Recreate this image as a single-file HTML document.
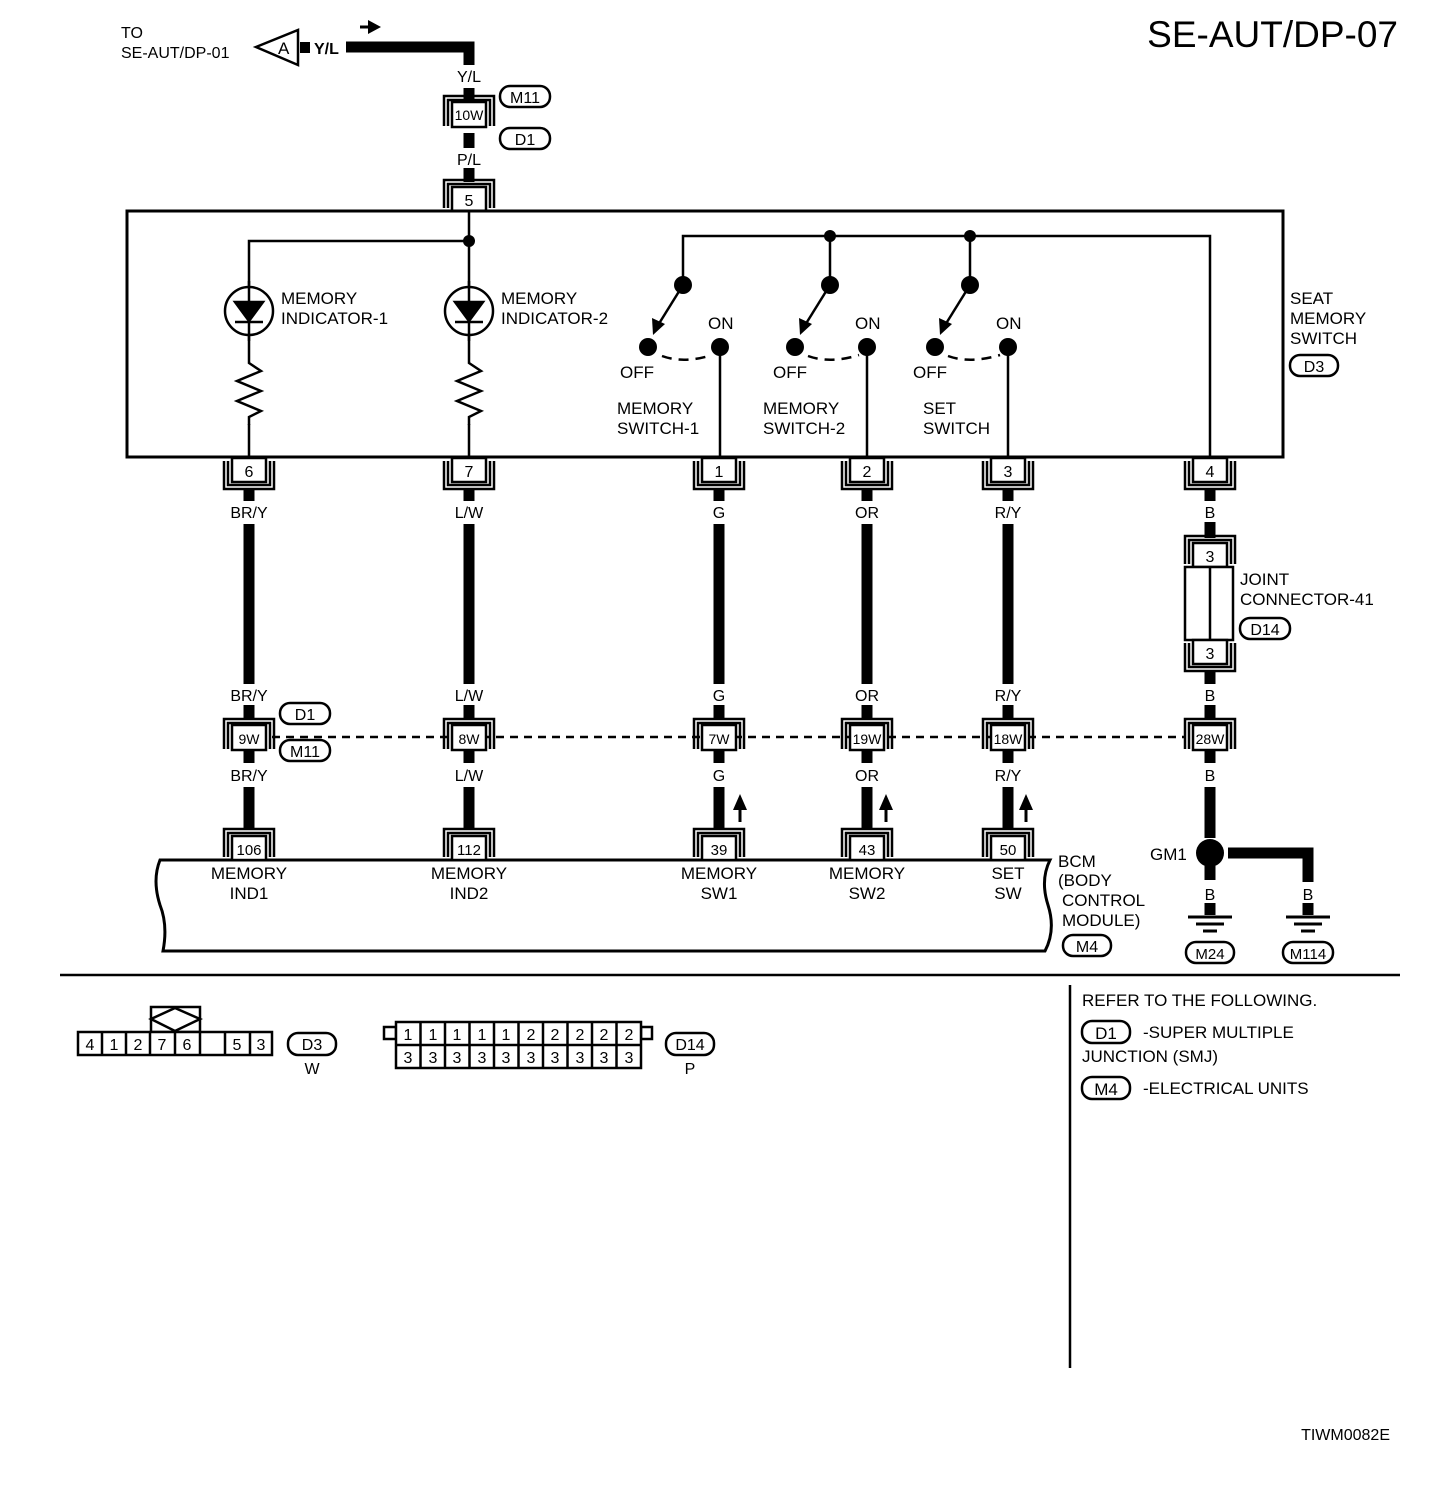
<!DOCTYPE html>
<html><head><meta charset="utf-8"><style>
html,body{margin:0;padding:0;background:#fff;}
svg{display:block;}
text{font-family:"Liberation Sans",Arial,sans-serif;fill:#000;}
</style></head><body>
<svg width="1456" height="1506" viewBox="0 0 1456 1506" xmlns="http://www.w3.org/2000/svg">
<defs>
<g id="cd" fill="none" stroke="#000" stroke-width="2.5"><rect x="-17" y="0" width="34" height="24" fill="#fff"/><path d="M-25,3 V31 H25 V3"/><path d="M-21,3 V27 H21 V3"/></g>
<g id="cu" fill="none" stroke="#000" stroke-width="2.5"><rect x="-17" y="-24" width="34" height="24" fill="#fff"/><path d="M-25,-3 V-31 H25 V-3"/><path d="M-21,-3 V-27 H21 V-3"/></g>
<g id="ci" fill="none" stroke="#000" stroke-width="2.5"><rect x="-17" y="-12" width="34" height="25" fill="#fff"/><path d="M-25,12 V-18 H25 V12"/><path d="M-21,12 V-14 H21 V12"/></g>
<g id="led" fill="none" stroke="#000" stroke-width="2.5"><circle cx="0" cy="0" r="24" fill="#fff"/><path d="M0,-30 V30"/><path d="M-14,-9 H14 L0,10 Z" fill="#000"/><path d="M-14,11 H14"/></g>
<g id="res" fill="none" stroke="#000" stroke-width="2.5"><path d="M0,0 V8 L12,16 L-12,26 L12,36 L-12,46 L12,56 L0,62 V70"/></g>
<g id="gnd" stroke="#000" fill="none"><path d="M-22,0 H22" stroke-width="3"/><path d="M-14,7 H14" stroke-width="3"/><path d="M-7,14 H7" stroke-width="3"/></g>
<g id="upa"><path d="M0,0 V-14" stroke="#000" stroke-width="3"/><path d="M-7,-12 L0,-28 L7,-12 Z" fill="#000"/></g>
</defs>

<text x="1398" y="47" font-size="37" text-anchor="end">SE-AUT/DP-07</text>

<text x="121" y="38" font-size="16">TO</text>
<text x="121" y="58" font-size="16">SE-AUT/DP-01</text>
<path d="M256,47 L298,30 L298,65 Z" fill="#fff" stroke="#000" stroke-width="2.5"/>
<text x="278" y="54" font-size="17">A</text>
<rect x="300" y="42" width="10" height="11" fill="#000"/>
<text x="314" y="54" font-size="16" font-weight="bold">Y/L</text>
<path d="M346,47 H469 V65" fill="none" stroke="#000" stroke-width="11"/>
<path d="M360,27 H370" stroke="#000" stroke-width="3"/><path d="M368,20 L381,27 L368,34 Z" fill="#000"/>
<text x="469" y="82" font-size="16" text-anchor="middle">Y/L</text>
<path d="M469,88 V104" stroke="#000" stroke-width="11"/>
<use href="#ci" x="469" y="114"/>
<text x="469" y="120" font-size="14" text-anchor="middle">10W</text>
<path d="M469,133 V148" stroke="#000" stroke-width="11"/>
<rect x="500" y="86" width="50" height="21" rx="10" fill="#fff" stroke="#000" stroke-width="2.5"/><text x="525" y="103" font-size="16" text-anchor="middle">M11</text>
<rect x="500" y="128" width="50" height="21" rx="10" fill="#fff" stroke="#000" stroke-width="2.5"/><text x="525" y="145" font-size="16" text-anchor="middle">D1</text>
<text x="469" y="165" font-size="16" text-anchor="middle">P/L</text>
<path d="M469,168 V182" stroke="#000" stroke-width="11"/>
<use href="#cu" x="469" y="211"/>
<text x="469" y="206" font-size="16" text-anchor="middle">5</text>

<rect x="127" y="211" width="1156" height="246" fill="none" stroke="#000" stroke-width="3"/>
<path d="M469,211 V355 M249,355 V241 H469" fill="none" stroke="#000" stroke-width="2.5"/>
<circle cx="469" cy="241" r="6" fill="#000"/>
<use href="#led" x="249" y="311"/><use href="#led" x="469" y="311"/>
<use href="#res" x="249" y="355"/><use href="#res" x="469" y="355"/>
<path d="M249,424 V457 M469,424 V457" stroke="#000" stroke-width="2.5"/>
<text x="281" y="304" font-size="17">MEMORY</text><text x="281" y="324" font-size="17">INDICATOR-1</text>
<text x="501" y="304" font-size="17">MEMORY</text><text x="501" y="324" font-size="17">INDICATOR-2</text>
<path d="M683,285 V236 H1210 V457 M830,236 V285 M970,236 V285" fill="none" stroke="#000" stroke-width="2.5"/>
<circle cx="830" cy="236" r="6" fill="#000"/><circle cx="970" cy="236" r="6" fill="#000"/>
<g fill="#000">
<circle cx="683" cy="285" r="9"/><circle cx="830" cy="285" r="9"/><circle cx="970" cy="285" r="9"/>
<circle cx="648" cy="347" r="9"/><circle cx="795" cy="347" r="9"/><circle cx="935" cy="347" r="9"/>
<circle cx="720" cy="347" r="9"/><circle cx="867" cy="347" r="9"/><circle cx="1008" cy="347" r="9"/>
</g>
<g stroke="#000" stroke-width="2.5" fill="none">
<path d="M683,285 L660,322"/><path d="M830,285 L807,322"/><path d="M970,285 L947,322"/>
<path d="M662,356 Q684,364 712,355" stroke-dasharray="10,7"/><path d="M808,356 Q830,364 859,355" stroke-dasharray="10,7"/><path d="M948,356 Q970,364 1000,355" stroke-dasharray="10,7"/>
<path d="M720,347 V457 M867,347 V457 M1008,347 V457"/>
</g>
<path d="M652,318 L665,324 L653,335 Z" fill="#000"/><path d="M799,318 L812,324 L800,335 Z" fill="#000"/><path d="M939,318 L952,324 L940,335 Z" fill="#000"/>
<g font-size="17">
<text x="708" y="329">ON</text><text x="855" y="329">ON</text><text x="996" y="329">ON</text>
<text x="620" y="378">OFF</text><text x="773" y="378">OFF</text><text x="913" y="378">OFF</text>
<text x="617" y="414">MEMORY</text><text x="617" y="434">SWITCH-1</text>
<text x="763" y="414">MEMORY</text><text x="763" y="434">SWITCH-2</text>
<text x="923" y="414">SET</text><text x="923" y="434">SWITCH</text>
<text x="1290" y="304">SEAT</text><text x="1290" y="324">MEMORY</text><text x="1290" y="344">SWITCH</text>
</g>
<rect x="1290" y="355" width="48" height="21" rx="10" fill="#fff" stroke="#000" stroke-width="2.5"/><text x="1314" y="372" font-size="16" text-anchor="middle">D3</text>

<g font-size="16" text-anchor="middle">
<use href="#cd" x="249" y="458"/><text x="249" y="477">6</text>
<use href="#cd" x="469" y="458"/><text x="469" y="477">7</text>
<use href="#cd" x="719" y="458"/><text x="719" y="477">1</text>
<use href="#cd" x="867" y="458"/><text x="867" y="477">2</text>
<use href="#cd" x="1008" y="458"/><text x="1008" y="477">3</text>
<use href="#cd" x="1210" y="458"/><text x="1210" y="477">4</text>
</g>

<g stroke="#000" stroke-width="11" fill="none">
<path d="M249,489 V501 M249,524 V684 M249,705 V718 M249,751 V763 M249,787 V830"/>
<path d="M469,489 V501 M469,524 V684 M469,705 V718 M469,751 V763 M469,787 V830"/>
<path d="M719,489 V501 M719,524 V684 M719,705 V718 M719,751 V763 M719,787 V830"/>
<path d="M867,489 V501 M867,524 V684 M867,705 V718 M867,751 V763 M867,787 V830"/>
<path d="M1008,489 V501 M1008,524 V684 M1008,705 V718 M1008,751 V763 M1008,787 V830"/>
<path d="M1210,489 V501 M1210,522 V538 M1210,670 V684 M1210,705 V718 M1210,751 V763 M1210,787 V838 M1210,866 V880 M1210,903 V915"/>
<path d="M1228,853 H1308 V882 M1308,903 V915"/>
</g>
<g font-size="16" text-anchor="middle">
<text x="249" y="518">BR/Y</text><text x="469" y="518">L/W</text><text x="719" y="518">G</text><text x="867" y="518">OR</text><text x="1008" y="518">R/Y</text><text x="1210" y="518">B</text>
<text x="249" y="701">BR/Y</text><text x="469" y="701">L/W</text><text x="719" y="701">G</text><text x="867" y="701">OR</text><text x="1008" y="701">R/Y</text><text x="1210" y="701">B</text>
<text x="249" y="781">BR/Y</text><text x="469" y="781">L/W</text><text x="719" y="781">G</text><text x="867" y="781">OR</text><text x="1008" y="781">R/Y</text><text x="1210" y="781">B</text>
</g>

<use href="#cu" x="1210" y="567"/><text x="1210" y="562" font-size="16" text-anchor="middle">3</text>
<rect x="1185" y="567" width="48" height="73" fill="#fff" stroke="#000" stroke-width="2.5"/>
<path d="M1210,567 V640" stroke="#000" stroke-width="2.5"/>
<use href="#cd" x="1210" y="640"/><text x="1210" y="659" font-size="16" text-anchor="middle">3</text>
<text x="1240" y="585" font-size="17">JOINT</text><text x="1240" y="605" font-size="17">CONNECTOR-41</text>
<rect x="1240" y="618" width="50" height="21" rx="10" fill="#fff" stroke="#000" stroke-width="2.5"/><text x="1265" y="635" font-size="16" text-anchor="middle">D14</text>

<path d="M272,737 H1186" stroke="#000" stroke-width="2.5" stroke-dasharray="8,6"/>
<g font-size="14" text-anchor="middle">
<use href="#ci" x="249" y="737"/><text x="249" y="744">9W</text>
<use href="#ci" x="469" y="737"/><text x="469" y="744">8W</text>
<use href="#ci" x="719" y="737"/><text x="719" y="744">7W</text>
<use href="#ci" x="867" y="737"/><text x="867" y="744">19W</text>
<use href="#ci" x="1008" y="737"/><text x="1008" y="744">18W</text>
<use href="#ci" x="1210" y="737"/><text x="1210" y="744">28W</text>
</g>
<rect x="280" y="703" width="50" height="21" rx="10" fill="#fff" stroke="#000" stroke-width="2.5"/><text x="305" y="720" font-size="16" text-anchor="middle">D1</text>
<rect x="280" y="740" width="50" height="21" rx="10" fill="#fff" stroke="#000" stroke-width="2.5"/><text x="305" y="757" font-size="16" text-anchor="middle">M11</text>

<use href="#upa" x="740" y="822"/><use href="#upa" x="886" y="822"/><use href="#upa" x="1026" y="822"/>

<path d="M160,860 H1050 Q1040,880 1048,905 Q1056,930 1045,951 H163 Q168,925 160,905 Q152,880 160,860 Z" fill="#fff" stroke="#000" stroke-width="3"/>
<g font-size="15" text-anchor="middle">
<use href="#cu" x="249" y="860"/><text x="249" y="855">106</text>
<use href="#cu" x="469" y="860"/><text x="469" y="855">112</text>
<use href="#cu" x="719" y="860"/><text x="719" y="855">39</text>
<use href="#cu" x="867" y="860"/><text x="867" y="855">43</text>
<use href="#cu" x="1008" y="860"/><text x="1008" y="855">50</text>
</g>
<g font-size="17" text-anchor="middle">
<text x="249" y="879">MEMORY</text><text x="249" y="899">IND1</text>
<text x="469" y="879">MEMORY</text><text x="469" y="899">IND2</text>
<text x="719" y="879">MEMORY</text><text x="719" y="899">SW1</text>
<text x="867" y="879">MEMORY</text><text x="867" y="899">SW2</text>
<text x="1008" y="879">SET</text><text x="1008" y="899">SW</text>
</g>
<g font-size="17">
<text x="1058" y="867">BCM</text><text x="1058" y="886">(BODY</text><text x="1062" y="906">CONTROL</text><text x="1062" y="926">MODULE)</text>
</g>
<rect x="1063" y="935" width="48" height="21" rx="10" fill="#fff" stroke="#000" stroke-width="2.5"/><text x="1087" y="952" font-size="16" text-anchor="middle">M4</text>

<circle cx="1210" cy="853" r="14" fill="#000"/>
<text x="1150" y="860" font-size="17">GM1</text>
<text x="1210" y="900" font-size="16" text-anchor="middle">B</text><text x="1308" y="900" font-size="16" text-anchor="middle">B</text>
<use href="#gnd" x="1210" y="917"/><use href="#gnd" x="1308" y="917"/>
<rect x="1186" y="942" width="48" height="21" rx="10" fill="#fff" stroke="#000" stroke-width="2.5"/><text x="1210" y="959" font-size="15" text-anchor="middle">M24</text>
<rect x="1283" y="942" width="50" height="21" rx="10" fill="#fff" stroke="#000" stroke-width="2.5"/><text x="1308" y="959" font-size="15" text-anchor="middle">M114</text>

<path d="M60,975 H1400" stroke="#000" stroke-width="2.5"/>
<path d="M1070,985 V1368" stroke="#000" stroke-width="2.5"/>
<g font-size="17">
<text x="1082" y="1006">REFER TO THE FOLLOWING.</text>
<text x="1143" y="1038">-SUPER MULTIPLE</text>
<text x="1082" y="1062">JUNCTION (SMJ)</text>
<text x="1143" y="1094">-ELECTRICAL UNITS</text>
</g>
<rect x="1082" y="1021" width="48" height="22" rx="10" fill="#fff" stroke="#000" stroke-width="2.5"/><text x="1106" y="1039" font-size="17" text-anchor="middle">D1</text>
<rect x="1082" y="1077" width="48" height="22" rx="10" fill="#fff" stroke="#000" stroke-width="2.5"/><text x="1106" y="1095" font-size="17" text-anchor="middle">M4</text>

<g fill="#fff" stroke="#000" stroke-width="2.5">
<rect x="151" y="1007" width="49" height="25"/>
<path d="M151,1019 L175,1008 L200,1019 L175,1031 Z" fill="none"/>
<rect x="78" y="1032" width="194" height="23"/>
<path d="M102,1032 V1055 M126,1032 V1055 M150,1032 V1055 M175,1032 V1055 M200,1032 V1055 M225,1032 V1055 M250,1032 V1055" fill="none"/>
</g>
<g font-size="16" text-anchor="middle">
<text x="90" y="1050">4</text><text x="114" y="1050">1</text><text x="138" y="1050">2</text><text x="162" y="1050">7</text><text x="187" y="1050">6</text><text x="237" y="1050">5</text><text x="261" y="1050">3</text>
</g>
<rect x="288" y="1033" width="48" height="22" rx="10" fill="#fff" stroke="#000" stroke-width="2.5"/><text x="312" y="1050" font-size="16" text-anchor="middle">D3</text>
<text x="312" y="1074" font-size="16" text-anchor="middle">W</text>

<g fill="#fff" stroke="#000" stroke-width="2.5">
<rect x="384" y="1027" width="12" height="12"/><rect x="641" y="1027" width="11" height="12"/>
<rect x="396" y="1022" width="245" height="46"/>
<path d="M396,1045 H641 M420.5,1022 V1068 M445,1022 V1068 M469.5,1022 V1068 M494,1022 V1068 M518.5,1022 V1068 M543,1022 V1068 M567.5,1022 V1068 M592,1022 V1068 M616.5,1022 V1068" fill="none"/>
</g>
<g font-size="16" text-anchor="middle">
<text x="408" y="1040">1</text><text x="433" y="1040">1</text><text x="457" y="1040">1</text><text x="482" y="1040">1</text><text x="506" y="1040">1</text><text x="531" y="1040">2</text><text x="555" y="1040">2</text><text x="580" y="1040">2</text><text x="604" y="1040">2</text><text x="629" y="1040">2</text>
<text x="408" y="1063">3</text><text x="433" y="1063">3</text><text x="457" y="1063">3</text><text x="482" y="1063">3</text><text x="506" y="1063">3</text><text x="531" y="1063">3</text><text x="555" y="1063">3</text><text x="580" y="1063">3</text><text x="604" y="1063">3</text><text x="629" y="1063">3</text>
</g>
<rect x="666" y="1033" width="48" height="22" rx="10" fill="#fff" stroke="#000" stroke-width="2.5"/><text x="690" y="1050" font-size="16" text-anchor="middle">D14</text>
<text x="690" y="1074" font-size="16" text-anchor="middle">P</text>

<text x="1390" y="1440" font-size="16" text-anchor="end">TIWM0082E</text>
</svg>
</body></html>
